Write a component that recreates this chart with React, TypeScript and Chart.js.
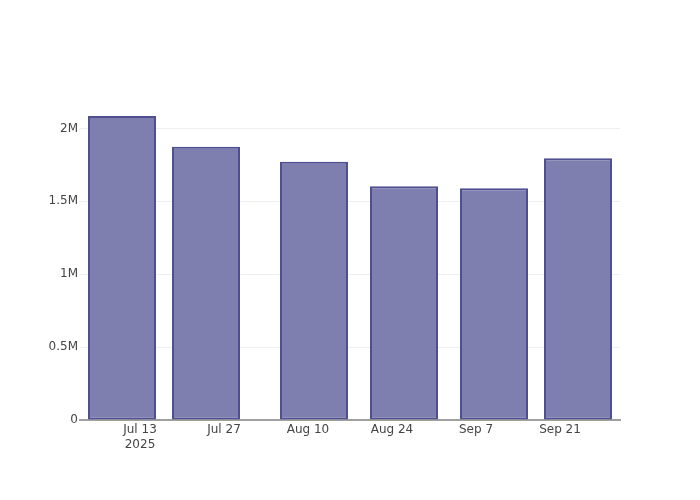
import React, { useEffect, useRef } from "react";
import { Chart, registerables } from "chart.js";

Chart.register(...registerables);

const barDates = ["2025-07-10", "2025-07-24", "2025-08-11", "2025-08-26", "2025-09-10", "2025-09-24"];
const barValues = [2085000, 1874000, 1772000, 1603000, 1590000, 1795000];
const xTickDates = ["2025-07-13", "2025-07-27", "2025-08-10", "2025-08-24", "2025-09-07", "2025-09-21"];
const xTickLabels: (string | string[])[] = [["Jul 13", "2025"], "Jul 27", "Aug 10", "Aug 24", "Sep 7", "Sep 21"];
const yTickValues = [0, 500000, 1000000, 1500000, 2000000];
const yTickLabels = ["0", "0.5M", "1M", "1.5M", "2M"];
const xRangeDates = ["2025-07-03", "2025-10-01"];
const yMax = 2195000;

const toDay = (s: string) => {
  const [y, m, d] = s.split("-").map(Number);
  return Date.UTC(y, m - 1, d) / 86400000;
};

export default function App() {
  const ref = useRef<HTMLCanvasElement | null>(null);
  useEffect(() => {
    if (!ref.current) return;
    const font = { family: '"DejaVu Sans", sans-serif', size: 12 };
    const xTicks = xTickDates.map(toDay);
    const chart = new Chart(ref.current, {
      type: "bar",
      data: {
        datasets: [
          {
            data: barDates.map((d, i) => ({ x: toDay(d), y: barValues[i] })),
            backgroundColor: "#7f7faf",
            borderColor: "#4e4e91",
            borderWidth: 2,
            borderSkipped: false,
            barPercentage: 0.81,
            categoryPercentage: 1.0,
          },
        ],
      },
      options: {
        animation: false,
        responsive: false,
        maintainAspectRatio: false,
        layout: { padding: { top: 100, right: 80, left: 0, bottom: 0 } },
        plugins: { legend: { display: false }, tooltip: { enabled: false } },
        scales: {
          x: {
            type: "linear",
            offset: false,
            min: toDay(xRangeDates[0]),
            max: toDay(xRangeDates[1]),
            z: 1,
            grid: { display: false, drawTicks: false, offset: false },
            border: { display: true, color: "#a0a0a0", width: 2 },
            afterBuildTicks: (scale: any) => {
              scale.ticks = xTicks.map((v) => ({ value: v }));
            },
            afterFit: (scale: any) => {
              scale.height = 80;
            },
            ticks: {
              color: "#444444",
              font,
              padding: 3,
              maxRotation: 0,
              autoSkip: false,
              callback: (v: any) => {
                const i = xTicks.indexOf(Number(v));
                return i >= 0 ? xTickLabels[i] : "";
              },
            },
          },
          y: {
            type: "linear",
            min: 0,
            max: yMax,
            grid: { color: "#eeeeee", lineWidth: 1, drawTicks: false },
            border: { display: false },
            afterBuildTicks: (scale: any) => {
              scale.ticks = yTickValues.map((v) => ({ value: v }));
            },
            afterFit: (scale: any) => {
              scale.width = 80;
            },
            ticks: {
              color: "#444444",
              font,
              padding: 2,
              callback: (v: any) => {
                const i = yTickValues.indexOf(Number(v));
                return i >= 0 ? yTickLabels[i] : "";
              },
            },
          },
        },
      },
    } as any);
    return () => chart.destroy();
  }, []);
  return (
    <div style={{ position: "absolute", left: 0, top: 0, width: 700, height: 500, background: "#fff" }}>
      <canvas ref={ref} width={700} height={500} style={{ width: 700, height: 500 }} />
    </div>
  );
}
